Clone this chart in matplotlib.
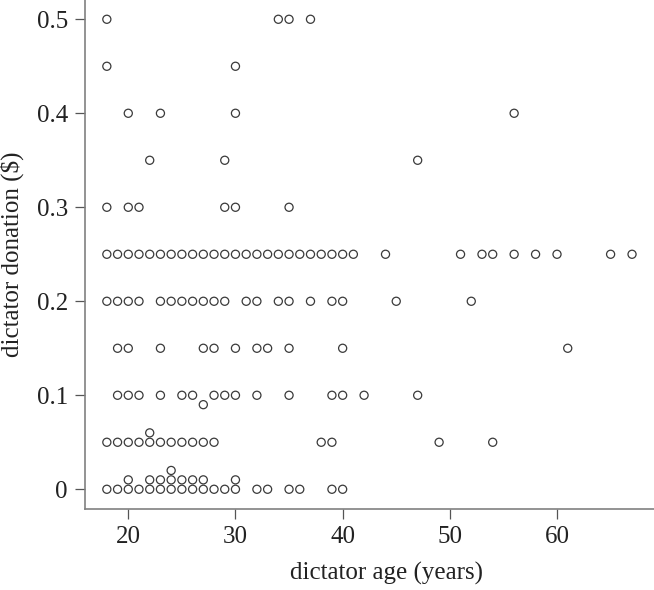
import numpy as np
import matplotlib
matplotlib.use('Agg')
import matplotlib.pyplot as plt

# ages of dictators at each donation level ($)
age_000 = [18, 19, 20, 21, 22, 23, 24, 25, 26, 27, 28, 29, 30, 32, 33, 35, 36, 39, 40]
age_001 = [20, 22, 23, 24, 25, 26, 27, 30]
age_002 = [24]
age_005 = [18, 19, 20, 21, 22, 23, 24, 25, 26, 27, 28, 38, 39, 49, 54]
age_006 = [22]
age_009 = [27]
age_010 = [19, 20, 21, 23, 25, 26, 28, 29, 30, 32, 35, 39, 40, 42, 47]
age_015 = [19, 20, 23, 27, 28, 30, 32, 33, 35, 40, 61]
age_020 = [18, 19, 20, 21, 23, 24, 25, 26, 27, 28, 29, 31, 32, 34, 35, 37, 39, 40, 45, 52]
age_025 = list(range(18, 42)) + [44, 51, 53, 54, 56, 58, 60, 65, 67]
age_030 = [18, 20, 21, 29, 30, 35]
age_035 = [22, 29, 47]
age_040 = [20, 23, 30, 56]
age_045 = [18, 30]
age_050 = [18, 34, 35, 37]

levels = [0.0, 0.01, 0.02, 0.05, 0.06, 0.09, 0.10, 0.15, 0.20, 0.25, 0.30, 0.35, 0.40, 0.45, 0.50]
groups = [age_000, age_001, age_002, age_005, age_006, age_009, age_010, age_015,
          age_020, age_025, age_030, age_035, age_040, age_045, age_050]

ages = []
donations = []
for lev, grp in zip(levels, groups):
    ages += grp
    donations += [lev] * len(grp)

plt.rcParams['font.family'] = ['Liberation Serif', 'DejaVu Serif']
plt.rcParams['font.size'] = 18

fig = plt.figure(figsize=(6.54, 5.9), dpi=100)
ax = fig.add_axes([85.3 / 654, 81 / 590, 601.4 / 654, 509 / 590])

ax.scatter(ages, donations, s=34, facecolors='none', edgecolors='#3a3a3a', linewidths=0.9)

ax.set_xlim(15.99, 72.1)
ax.set_ylim(-0.021, 0.5205)
ax.set_xticks([20, 30, 40, 50, 60])
ax.set_yticks([0, 0.1, 0.2, 0.3, 0.4, 0.5])
ax.set_yticklabels(['0', '0.1', '0.2', '0.3', '0.4', '0.5'])

for s in ['top', 'right']:
    ax.spines[s].set_visible(False)
for s in ['left', 'bottom']:
    ax.spines[s].set_color('#808080')
    ax.spines[s].set_linewidth(1.2)

ax.tick_params(axis='both', length=7.5, width=0.9, color='#555555', labelcolor='#222222')
ax.tick_params(axis='x', pad=5)
ax.tick_params(axis='y', pad=5)

ax.set_xlabel('dictator age (years)', color='#222222', labelpad=10)
ax.set_ylabel('dictator donation ($)', color='#222222', labelpad=9)

fig.savefig('out.png', dpi=100)
